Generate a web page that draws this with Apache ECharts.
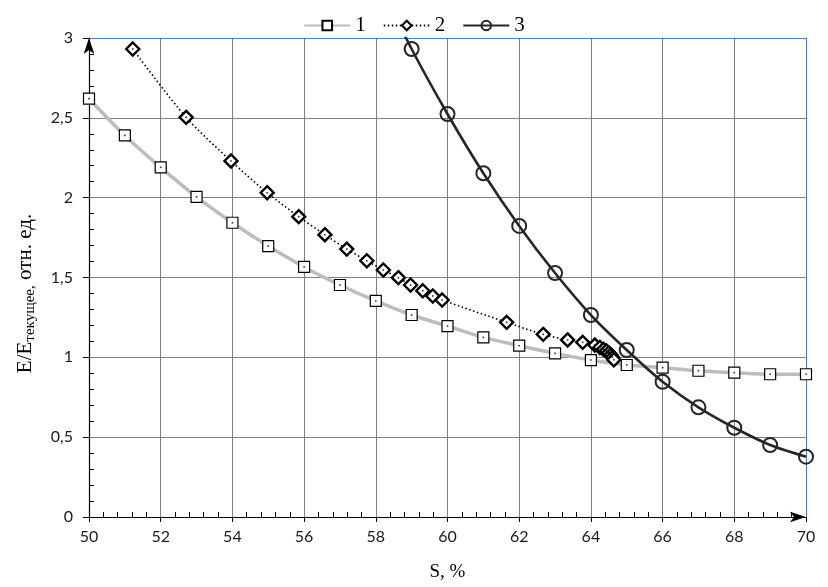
<!DOCTYPE html>
<html><head><meta charset="utf-8">
<script src="https://cdn.jsdelivr.net/npm/echarts@6/dist/echarts.min.js"></script>
<style>html,body{margin:0;padding:0;background:#fff}#c{width:828px;height:587px}</style>
</head><body><div id="c"></div>
<script>
const seriesNames = ['1', '2', '3'];
const x1 = [50,51,52,53,54,55,56,57,58,59,60,61,62,63,64,65,66,67,68,69,70];
const y1 = [2.62,2.39,2.19,2.005,1.843,1.697,1.566,1.453,1.353,1.265,1.196,1.125,1.073,1.025,0.983,0.952,0.935,0.916,0.904,0.894,0.894];
const x2 = [51.22,52.71,53.96,54.97,55.85,56.58,57.19,57.75,58.21,58.63,58.97,59.31,59.59,59.85,61.65,62.67,63.35,63.77,64.11,64.25,64.35,64.43,64.5,64.56,64.6,64.64];
const y2 = [2.931,2.503,2.23,2.031,1.881,1.768,1.678,1.605,1.547,1.499,1.453,1.417,1.384,1.359,1.219,1.144,1.109,1.094,1.077,1.062,1.05,1.04,1.028,1.015,1.0,0.985];
const x3 = [58,59,60,61,62,63,64,65,66,67,68,69,70];
const y3 = [3.39,2.931,2.524,2.153,1.823,1.528,1.265,1.046,0.847,0.687,0.559,0.451,0.378];

const pairs = (xs, ys) => xs.map((x, i) => [x, ys[i]]);
const d1 = pairs(x1, y1), d2 = pairs(x2, y2), d3 = pairs(x3, y3);

const tickFont = {fontFamily: 'Lato', fontSize: 16, color: '#1a1a1a'};
const serif = 'Liberation Serif';

const chart = echarts.init(document.getElementById('c'), null, {renderer: 'canvas'});
chart.setOption({
  animation: false,
  backgroundColor: '#fff',
  legend: {
    data: seriesNames,
    top: 10, left: 'center',
    itemWidth: 46, itemHeight: 12, itemGap: 17,
    textStyle: {fontFamily: serif, fontSize: 21, color: '#000'}
  },
  grid: {left: 89, right: 22, top: 38, bottom: 70, containLabel: false},
  xAxis: [{
    type: 'value', min: 50, max: 70, interval: 2,
    name: 'S, %', nameLocation: 'middle', nameGap: 46,
    nameTextStyle: {fontFamily: serif, fontSize: 19, color: '#000'},
    axisLine: {lineStyle: {color: '#000', width: 1.2}, symbol: ['none', 'arrow'], symbolSize: [8, 16]},
    axisTick: {show: true, inside: false, length: 5, lineStyle: {color: '#000'}},
    minorTick: {show: true, splitNumber: 5, length: -5, lineStyle: {color: '#000'}},
    axisLabel: Object.assign({margin: 12}, tickFont),
    splitLine: {show: true, lineStyle: {color: '#808080', width: 1}}
  }, {
    type: 'value', min: 50, max: 70, position: 'top',
    axisLine: {show: true, onZero: false, lineStyle: {color: '#4a7ebb', width: 1}},
    axisTick: {show: false}, axisLabel: {show: false}, splitLine: {show: false}
  }],
  yAxis: [{
    type: 'value', min: 0, max: 3, interval: 0.5,
    name: '{a|E/E}{s|текущее,}{a| отн. ед.}', nameLocation: 'middle', nameGap: 51, nameRotate: 90,
    nameTextStyle: {
      padding: [0, 32, 0, 0],
      rich: {
        a: {fontFamily: serif, fontSize: 21, color: '#000', verticalAlign: 'middle'},
        s: {fontFamily: serif, fontSize: 15, color: '#000', verticalAlign: 'bottom', padding: [10, 0, 0, 0]}
      }
    },
    axisLine: {show: true, lineStyle: {color: '#000', width: 1.2}, symbol: ['none', 'arrow'], symbolSize: [8, 16]},
    axisTick: {show: true, inside: false, length: 6, lineStyle: {color: '#000'}},
    minorTick: {show: true, splitNumber: 5, length: -5, lineStyle: {color: '#000'}},
    axisLabel: Object.assign({margin: 16, formatter: v => String(v).replace('.', ',')}, tickFont),
    splitLine: {show: true, lineStyle: {color: '#808080', width: 1}}
  }, {
    type: 'value', min: 0, max: 3, position: 'right',
    axisLine: {show: true, onZero: false, lineStyle: {color: '#4a7ebb', width: 1}},
    axisTick: {show: false}, axisLabel: {show: false}, splitLine: {show: false}
  }],
  series: [{
    name: '1', type: 'line', data: d1, smooth: 0.3, clip: true,
    lineStyle: {color: '#bdbdbd', width: 3.5},
    symbol: 'rect', symbolSize: 11,
    itemStyle: {color: '#fff', borderColor: '#000', borderWidth: 1.2}
  }, {
    name: '2', type: 'line', data: d2, smooth: 0.3, clip: true,
    lineStyle: {color: '#000', width: 1.6, type: [1.5, 2.5]},
    symbol: 'diamond', symbolSize: 13,
    itemStyle: {color: '#fff', borderColor: '#000', borderWidth: 2.4}
  }, {
    name: '3', type: 'line', data: d3, smooth: 0.3, clip: true,
    lineStyle: {color: '#262626', width: 2.6},
    symbol: 'circle', symbolSize: 14,
    itemStyle: {color: 'rgba(255,255,255,0)', borderColor: '#262626', borderWidth: 2}
  }, {
    type: 'scatter', data: d1, symbol: 'rect', symbolSize: 1.6, z: 5, clip: true,
    itemStyle: {color: '#000'}, silent: true
  }, {
    type: 'scatter', data: d2, symbol: 'rect', symbolSize: 1.6, z: 5, clip: true,
    itemStyle: {color: '#000'}, silent: true
  }]
});
</script>
</body></html>
